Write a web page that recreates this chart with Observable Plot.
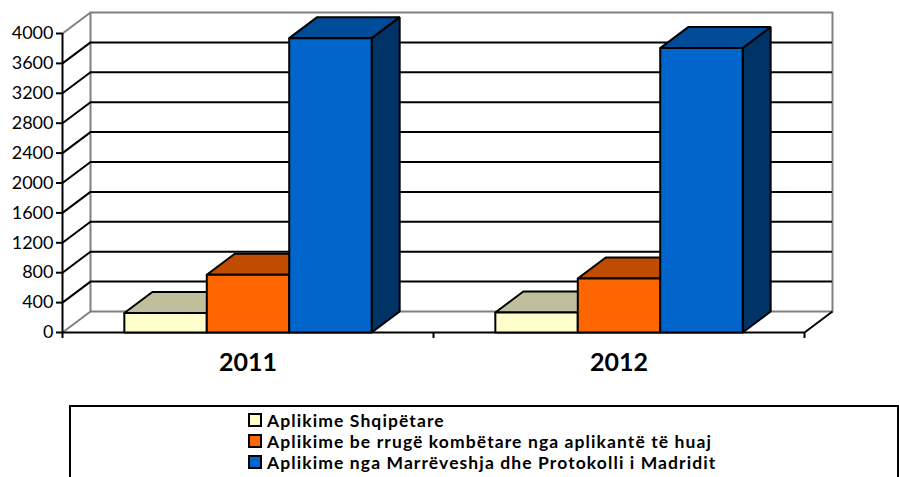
<!DOCTYPE html>
<html><head><meta charset="utf-8">
<script src="https://cdn.jsdelivr.net/npm/d3@7"></script>
<script src="https://cdn.jsdelivr.net/npm/@observablehq/plot@0.6"></script>
<style>
body{margin:0;background:#fff;font-family:Lato,sans-serif;}
#chart svg{display:block;font-family:Lato,sans-serif;}
#legend{box-sizing:border-box;margin:10px 0 0 69px;width:830px;height:80px;border:2px solid #000;padding:3px 0 0 177px;}
.item{font-weight:700;font-size:17.5px;letter-spacing:1.1px;line-height:21px;white-space:nowrap;color:#000;}
.sw{display:inline-block;box-sizing:border-box;width:14px;height:14px;border:2px solid #000;margin-right:5px;}
</style></head><body><div id="chart"></div><div id="legend"></div>
<script>
// ---- data ----
const years = ["2011", "2012"];
const seriesNames = [
  "Aplikime Shqipëtare",
  "Aplikime be rrugë kombëtare nga aplikantë të huaj",
  "Aplikime nga Marrëveshja dhe Protokolli i Madridit"
];
const shqipetare = [260, 268];
const kombetare = [772, 722];
const madridit = [3938, 3805];
const yTicks = [0, 400, 800, 1200, 1600, 2000, 2400, 2800, 3200, 3600, 4000];

// ---- style ----
const frontColors = ["#FFFFCC", "#FF6600", "#0066CC"];
const topColors = ["#BFBF9B", "#BF4C00", "#004C99"];
const sideColors = ["#99997A", "#993D00", "#003366"];
const W = 899, H = 395, ML = 62, MR = 95, MT = 33, MB = 63;
const DEPTH_X = 28, DEPTH_Y = 21, TICK = 6;
const GAP = 0.75;

const series = [shqipetare, kombetare, madridit];
const yMax = yTicks[yTicks.length - 1];
const G = series.length + 2 * GAP;       // group width in bar units
const xMax = years.length * G;
const pxX = (W - ML - MR) / xMax, pxY = (H - MT - MB) / yMax;
const DX = DEPTH_X / pxX, DY = DEPTH_Y / pxY, TK = TICK / pxY;

// polygons for 3D bars (side, top, front), in drawing order
const polys = [];
years.forEach((yr, gi) => {
  series.forEach((vals, si) => {
    const v = vals[gi];
    const x0 = gi * G + GAP + si, x1 = x0 + 1;
    const id = `${yr}-${si}`;
    const add = (face, fill, pts) => pts.forEach(([x, y]) => polys.push({id: id + face, fill, x, y}));
    add("s", sideColors[si], [[x1, 0], [x1 + DX, DY], [x1 + DX, v + DY], [x1, v], [x1, 0]]);
    add("t", topColors[si], [[x0, v], [x1, v], [x1 + DX, v + DY], [x0 + DX, v + DY], [x0, v]]);
    add("f", frontColors[si], [[x0, 0], [x1, 0], [x1, v], [x0, v], [x0, 0]]);
  });
});

const inner = yTicks.filter(t => t > 0 && t < yMax);
const gray = "#808080";

const chart = Plot.plot({
  width: W, height: H,
  marginLeft: ML, marginRight: MR, marginTop: MT, marginBottom: MB,
  x: {type: "linear", domain: [0, xMax], axis: null},
  y: {domain: [0, yMax], axis: null},
  color: {type: "identity"},
  style: {fontFamily: "Lato, sans-serif", color: "#000", background: "#fff", overflow: "visible"},
  marks: [
    // back wall frame
    Plot.line([[DX, DY], [xMax + DX, DY], [xMax + DX, yMax + DY], [DX, yMax + DY], [DX, DY]], {stroke: gray, strokeWidth: 2}),
    // back wall gridlines
    Plot.ruleY(inner, {y: d => d + DY, x1: DX, x2: xMax + DX, stroke: "#000", strokeWidth: 2}),
    // side wall gridlines
    Plot.link(inner, {x1: 0, y1: d => d, x2: DX, y2: d => d + DY, stroke: "#000", strokeWidth: 2}),
    Plot.link([0, yMax], {x1: 0, y1: d => d, x2: DX, y2: d => d + DY, stroke: gray, strokeWidth: 2}),
    // floor
    Plot.ruleY([0], {x1: 0, x2: xMax, stroke: "#000", strokeWidth: 2}),
    Plot.link([xMax], {x1: d => d, y1: 0, x2: d => d + DX, y2: DY, stroke: "#000", strokeWidth: 2}),
    // axis lines & ticks
    Plot.ruleX([0], {y1: -TK, y2: yMax, stroke: "#000", strokeWidth: 2}),
    Plot.ruleX(years.map((d, i) => (i + 1) * G), {y1: -TK, y2: 0, stroke: "#000", strokeWidth: 2}),
    Plot.axisY(yTicks, {anchor: "left", tickSize: TICK, tickPadding: 3, fontSize: 18, strokeWidth: 2, label: null, tickFormat: d => String(d)}),
    // bars
    Plot.line(polys, {x: "x", y: "y", z: "id", fill: "fill", stroke: "#000", strokeWidth: 2, strokeLinejoin: "miter"}),
    // category labels
    Plot.text(years, {x: (d, i) => i * G + G / 2, y: 0, dy: 30, text: d => d, fontSize: 25, fontWeight: "bold", lineAnchor: "middle", fill: "#000"})
  ]
});
document.getElementById("chart").append(chart);

const legend = document.getElementById("legend");
seriesNames.forEach((name, i) => {
  const row = document.createElement("div");
  row.className = "item";
  const sw = document.createElement("span");
  sw.className = "sw";
  sw.style.background = frontColors[i];
  row.append(sw, document.createTextNode(name));
  legend.append(row);
});
</script>
</body></html>
